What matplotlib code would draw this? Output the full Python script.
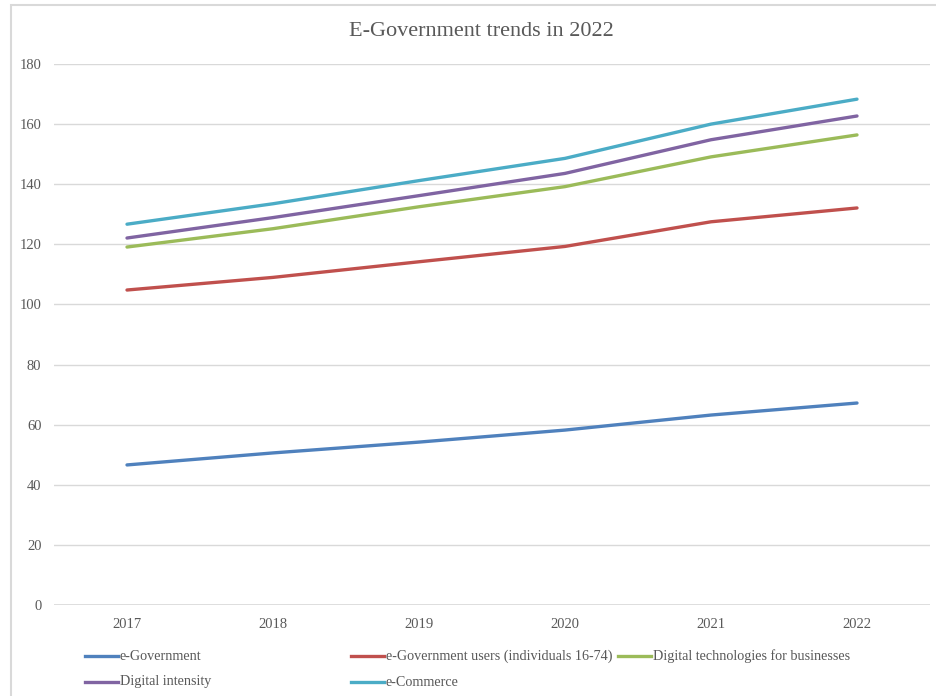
import matplotlib.pyplot as plt
from matplotlib.lines import Line2D
from matplotlib.patches import Rectangle

years = [2017, 2018, 2019, 2020, 2021, 2022]
e_government = [46.6, 50.6, 54.2, 58.2, 63.2, 67.2]
e_gov_users = [104.8, 109.0, 114.2, 119.3, 127.5, 132.1]
digital_tech = [119.1, 125.2, 132.5, 139.2, 149.1, 156.4]
digital_intensity = [122.1, 128.9, 136.2, 143.6, 154.8, 162.7]
e_commerce = [126.7, 133.5, 141.2, 148.6, 160.0, 168.3]

names = ['e-Government', 'e-Government users (individuals 16-74)',
         'Digital technologies for businesses', 'Digital intensity', 'e-Commerce']
series = [e_government, e_gov_users, digital_tech, digital_intensity, e_commerce]
COLORS = ['#4F81BD', '#C0504D', '#9BBB59', '#8064A2', '#4BACC6']
TXT = '#595959'
GRID = '#d9d9d9'
FONT = 'Liberation Serif'

W, H = 937, 696
fig = plt.figure(figsize=(W/100, H/100), dpi=100)

# outer chart frame
fig.patches.append(Rectangle((11/W, -0.05), 1.1, 1 - 5/H + 0.05, transform=fig.transFigure,
                             fill=False, edgecolor=GRID, linewidth=1.5))

ax = fig.add_axes([54/W, (H-605)/H, (930-54)/W, (605-64)/H])
for vals, color in zip(series, COLORS):
    ax.plot(years, vals, color=color, linewidth=2.4, solid_capstyle='round',
            solid_joinstyle='round', zorder=3)

ax.set_xlim(2016.5, 2022.5)
ax.set_ylim(0, 180)
ax.set_yticks(range(0, 181, 20))
ax.set_xticks(years)
ax.grid(axis='y', color=GRID, linewidth=1)
ax.set_axisbelow(True)
for s in ax.spines.values():
    s.set_visible(False)
ax.axhline(0, color=GRID, linewidth=1.2, zorder=2)
ax.tick_params(length=0, labelsize=10.5, labelcolor=TXT)
ax.tick_params(axis='y', pad=9)
ax.tick_params(axis='x', pad=9)
for lab in ax.get_xticklabels() + ax.get_yticklabels():
    lab.set_fontfamily(FONT)

fig.text(481/W, 1 - 32/H, 'E-Government trends in 2022', ha='center', va='center',
         fontsize=16, color=TXT, family=FONT)

# legend laid out by hand
legend_pos = [(85, 656), (351, 656), (618, 656), (85, 682), (351, 682)]
for (x, y), name, color in zip(legend_pos, names, COLORS):
    fig.add_artist(Line2D([x/W, (x+33)/W], [1 - y/H, 1 - y/H], color=color,
                          linewidth=2.4, transform=fig.transFigure))
    fig.text((x+35)/W, 1 - y/H, name, ha='left', va='center', fontsize=10.2,
             color=TXT, family=FONT)

fig.savefig('out.png', dpi=100)
